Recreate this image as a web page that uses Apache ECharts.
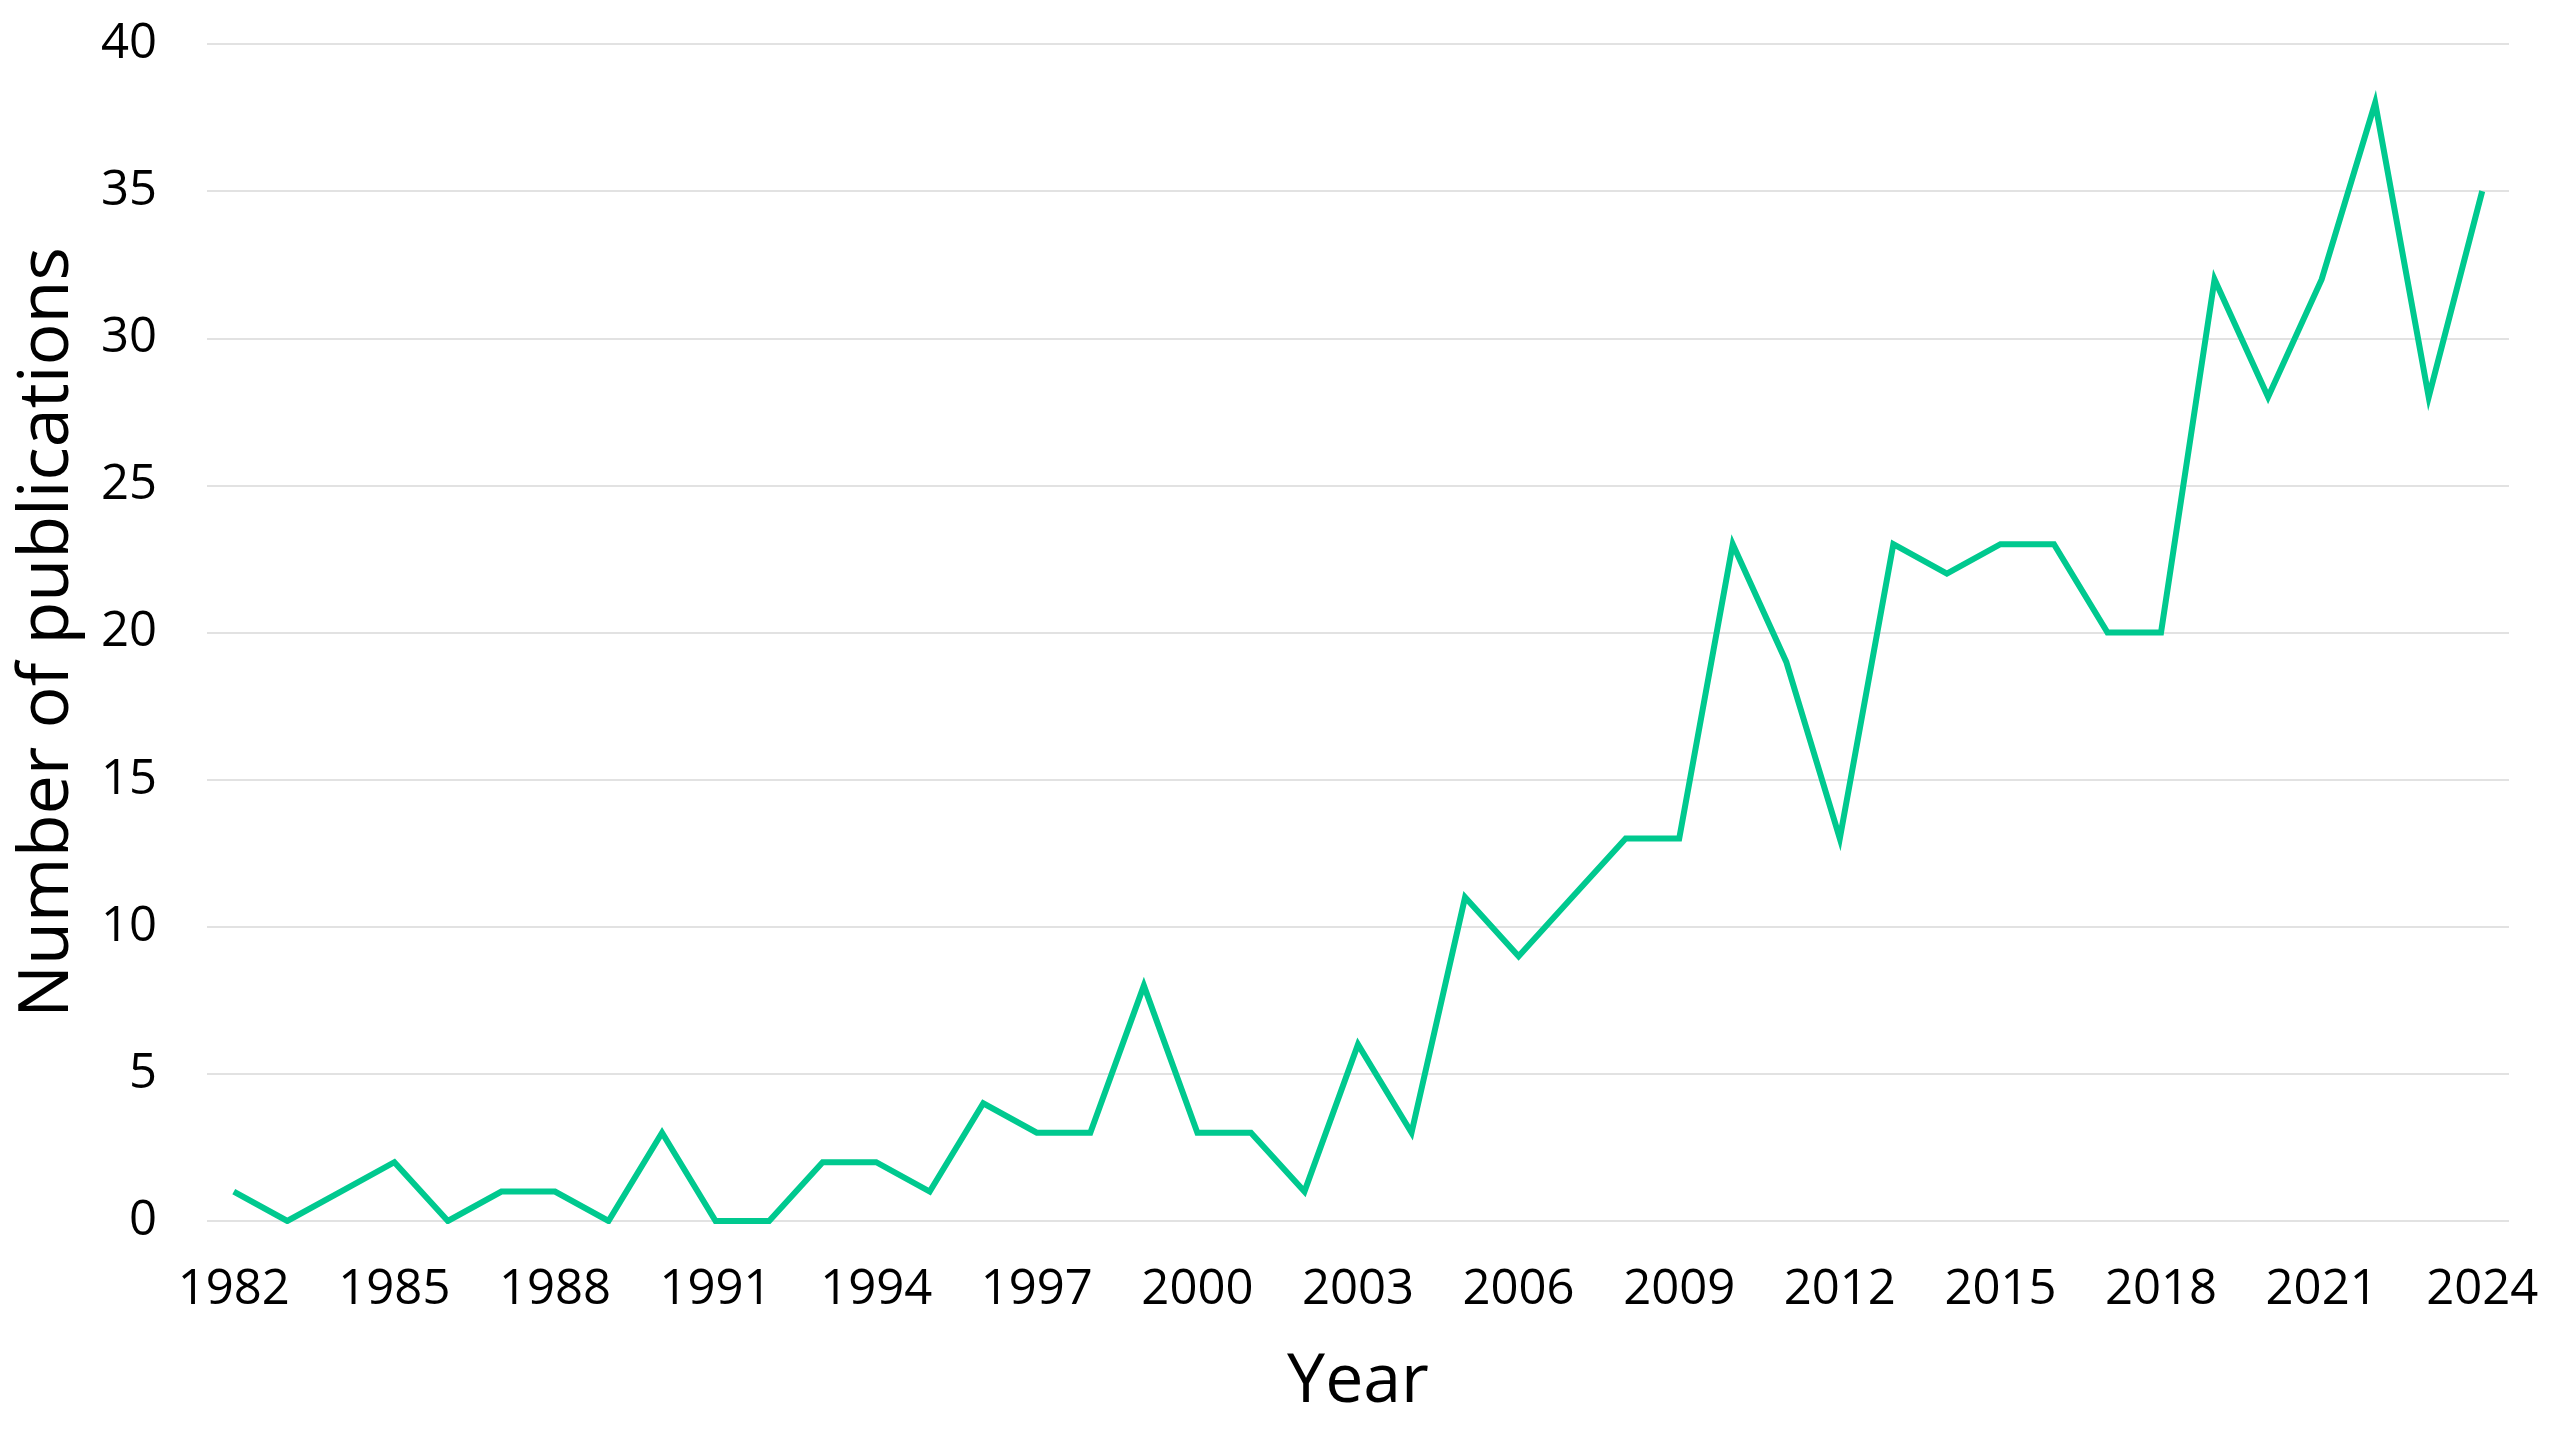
<!DOCTYPE html>
<html>
<head>
<meta charset="utf-8">
<script src="https://cdn.jsdelivr.net/npm/echarts@6/dist/echarts.min.js"></script>
<style>
  html, body { margin: 0; padding: 0; background: #fff; }
  #main { width: 2555px; height: 1435px; }
</style>
</head>
<body>
<div id="main"></div>
<script>
var years = [];
for (var y = 1982; y <= 2024; y++) years.push(String(y));

// publications per year
var counts = [
  1, 0, 1, 2, 0, 1, 1, 0, 3, 0,
  0, 2, 2, 1, 4, 3, 3, 8, 3, 3,
  1, 6, 3, 11, 9, 11, 13, 13, 23, 19,
  13, 23, 22, 23, 23, 20, 20, 32, 28, 32,
  38, 28, 35
];

var yTicks = [0, 5, 10, 15, 20, 25, 30, 35, 40];

var font = '"Open Sans", "Noto Sans", sans-serif';

var chart = echarts.init(document.getElementById('main'));
chart.setOption({
  animation: false,
  grid: { left: 207, right: 46, top: 44, bottom: 214 },
  xAxis: {
    type: 'category',
    data: years,
    boundaryGap: true,
    name: 'Year',
    nameLocation: 'middle',
    nameGap: 128,
    nameTextStyle: { fontFamily: font, fontSize: 68, color: '#000' },
    axisLine: { show: false },
    axisTick: { show: false },
    axisLabel: {
      interval: 2,
      margin: 45,
      fontFamily: font,
      fontSize: 49,
      color: '#000'
    }
  },
  yAxis: {
    type: 'value',
    min: yTicks[0],
    max: yTicks[yTicks.length - 1],
    interval: 5,
    name: 'Number of publications',
    nameLocation: 'middle',
    nameGap: 124,
    nameTextStyle: { fontFamily: font, fontSize: 70, color: '#000' },
    axisLine: { show: false },
    axisTick: { show: false },
    axisLabel: {
      margin: 50,
      fontFamily: font,
      fontSize: 49,
      color: '#000'
    },
    splitLine: { lineStyle: { color: '#d9d9d9', width: 1.5 } }
  },
  series: [{
    type: 'line',
    data: counts,
    symbol: 'none',
    lineStyle: { color: '#00c98f', width: 6, join: 'miter' }
  }]
});
</script>
</body>
</html>
